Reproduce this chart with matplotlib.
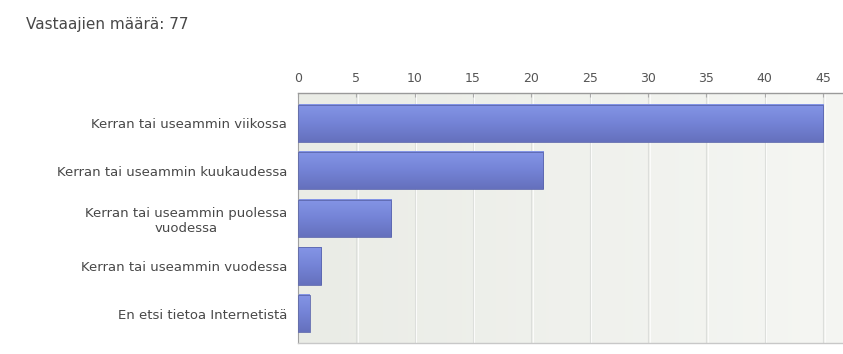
import numpy as np
import matplotlib
matplotlib.use("Agg")
import matplotlib.pyplot as plt
from matplotlib.colors import LinearSegmentedColormap

plt.rcParams['font.family'] = ['DejaVu Sans']

title = 'Vastaajien määrä: 77'
categories = [
    'Kerran tai useammin viikossa',
    'Kerran tai useammin kuukaudessa',
    'Kerran tai useammin puolessa\nvuodessa',
    'Kerran tai useammin vuodessa',
    'En etsi tietoa Internetistä',
]
counts = [45, 21, 8, 2, 1]
xticks = [0, 5, 10, 15, 20, 25, 30, 35, 40, 45]

fig = plt.figure(figsize=(8.43, 3.54), dpi=100)
ax = fig.add_axes([298 / 843, 1 - 343 / 354, 545 / 843, 250 / 354])

xmax = 46.7
ymin, ymax = -0.64, 4.62
ax.set_xlim(0, xmax)
ax.set_ylim(ymax, ymin)

# soft background gradient of the plot area
bg = LinearSegmentedColormap.from_list('bg', ['#eaece6', '#f5f6f3'])
ax.imshow(np.linspace(0, 1, 256).reshape(1, -1), cmap=bg, aspect='auto',
          extent=(0, xmax, ymax, ymin), zorder=0)

for t in xticks[1:]:
    ax.axvline(t, color='#dcdedb', lw=0.8, zorder=1)
    ax.axvline(t + 0.12, color='#fbfbfa', lw=0.8, zorder=1)

# bars with a vertical shading
barcm = LinearSegmentedColormap.from_list('bar', ['#8495e6', '#7483d6', '#6570bd'])
h = 0.78
ypos = np.arange(len(categories))
bars = ax.barh(ypos, counts, height=h, color='none', edgecolor='#5b66ad',
               lw=0.6, zorder=3)
for b in bars:
    x0, y0 = b.get_x(), b.get_y()
    ax.imshow(np.linspace(0, 1, 64).reshape(-1, 1), cmap=barcm, aspect='auto',
              extent=(x0, x0 + b.get_width(), y0 + b.get_height(), y0), zorder=2)
ax.set_xlim(0, xmax)
ax.set_ylim(ymax, ymin)

ax.xaxis.tick_top()
ax.set_xticks(xticks)
ax.set_xticklabels([str(t) for t in xticks])
ax.tick_params(axis='x', direction='in', length=3, color='#aaaaaa',
               labelsize=9, labelcolor='#555555', pad=6)
ax.set_yticks(ypos)
ax.set_yticklabels(categories, multialignment='center')
ax.tick_params(axis='y', length=0, labelsize=9.5, labelcolor='#484848', pad=8)

ax.spines['right'].set_visible(False)
ax.spines['top'].set_color('#9a9a9a')
ax.spines['top'].set_linewidth(1.0)
ax.spines['left'].set_color('#a0a0a0')
ax.spines['left'].set_linewidth(0.8)
ax.spines['bottom'].set_color('#c8c8c8')
ax.spines['bottom'].set_linewidth(1.0)

fig.text(26 / 843, 1 - 24 / 354, title, fontsize=11, color='#484848',
         va='center', ha='left')

fig.savefig('out.png', dpi=100, facecolor='white')
